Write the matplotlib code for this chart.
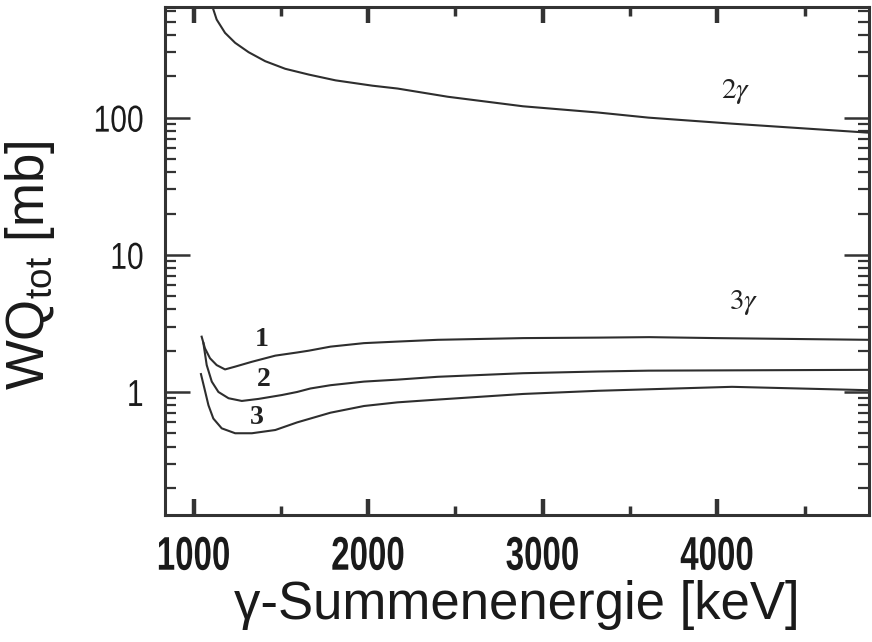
import matplotlib
matplotlib.use("Agg")
import matplotlib.pyplot as plt
from matplotlib.patheffects import AbstractPathEffect
from matplotlib.transforms import Affine2D
from matplotlib.ticker import MultipleLocator, LogLocator, NullFormatter, FuncFormatter

# --- data (energy in keV, cross section in mb) ---
x_2g = [1095, 1108, 1132, 1180, 1238, 1315, 1410, 1525, 1660, 1813, 2024, 2168,
        2456, 2887, 3316, 3606, 4084, 4866]
y_2g = [760, 643, 519, 415, 351, 300, 258, 227, 206, 187, 171, 163,
        142, 121, 109, 100, 90.4, 77.7]

x_3g1 = [1046, 1065, 1094, 1132, 1180, 1238, 1334, 1468, 1593, 1660, 1784, 1976,
         2168, 2398, 2890, 3320, 3610, 3990, 4866]
y_3g1 = [2.53, 2.08, 1.76, 1.57, 1.46, 1.53, 1.66, 1.84, 1.94, 2.0, 2.14, 2.27,
         2.33, 2.40, 2.47, 2.49, 2.51, 2.47, 2.40]

x_3g2 = [1056, 1075, 1104, 1142, 1200, 1276, 1372, 1506, 1593, 1669, 1784, 1976,
         2168, 2398, 2887, 3318, 3606, 4866]
y_3g2 = [2.27, 1.57, 1.19, 1.0, 0.90, 0.86, 0.89, 0.95, 1.0, 1.06, 1.12, 1.19,
         1.23, 1.29, 1.37, 1.41, 1.43, 1.45]

x_3g3 = [1042, 1062, 1085, 1113, 1161, 1238, 1334, 1468, 1593, 1784, 1976, 2168,
         2398, 2887, 3318, 3606, 4084, 4866]
y_3g3 = [1.35, 1.06, 0.80, 0.64, 0.543, 0.50, 0.50, 0.528, 0.60, 0.706, 0.79, 0.84,
         0.88, 0.967, 1.02, 1.046, 1.09, 1.03]

curve_labels = ["1", "2", "3"]
curve_label_pos = [(1391, 2.4), (1403, 1.24), (1362, 0.646)]
group_labels = [r"$2\gamma$", r"$3\gamma$"]
group_label_pos = [(4107, 155), (4153, 4.46)]

x_ticks = [1000, 2000, 3000, 4000]
y_ticks = [1, 10, 100]


class Squeeze(AbstractPathEffect):
    """Narrow the glyphs horizontally (condensed look) around an anchor."""

    def __init__(self, sx, anchor="center"):
        super().__init__()
        self.sx = sx
        self.anchor = anchor

    def draw_path(self, renderer, gc, tpath, affine, rgbFace=None):
        ext = tpath.get_extents(affine)
        x0 = ext.x1 if self.anchor == "right" else (ext.x0 + ext.x1) / 2
        sq = Affine2D().translate(-x0, 0).scale(self.sx, 1).translate(x0, 0)
        renderer.draw_path(gc, tpath, affine + sq, rgbFace)


plt.rcParams["mathtext.fontset"] = "stix"
plt.rcParams["mathtext.rm"] = "Liberation Sans"
plt.rcParams["mathtext.it"] = "Liberation Sans:italic"
plt.rcParams["mathtext.bf"] = "Liberation Sans:bold"

fig = plt.figure(figsize=(8.72, 6.42), dpi=100)
ax = fig.add_axes([0.189, 0.198, 0.807, 0.791])

line_kw = dict(color="#2e2e2e", lw=1.5)
ax.plot(x_2g, y_2g, **line_kw)
ax.plot(x_3g1, y_3g1, **line_kw)
ax.plot(x_3g2, y_3g2, **line_kw)
ax.plot(x_3g3, y_3g3, **line_kw)

ax.set_yscale("log")
ax.set_xlim(835, 4866)
ax.set_ylim(0.127, 640)

for txt, (tx, ty) in zip(curve_labels, curve_label_pos):
    ax.text(tx, ty, txt, fontsize=20, family="Liberation Serif", fontweight="bold",
            ha="center", va="center", color="#222222")
for txt, (tx, ty) in zip(group_labels, group_label_pos):
    ax.text(tx, ty, txt, fontsize=21, ha="center", va="center", color="#222222",
            math_fontfamily="stix")

# ticks
ax.xaxis.set_major_locator(MultipleLocator(1000))
ax.xaxis.set_minor_locator(MultipleLocator(500))
ax.set_xticks(x_ticks)
ax.yaxis.set_major_locator(LogLocator(base=10))
ax.yaxis.set_minor_locator(LogLocator(base=10, subs=range(2, 10)))
ax.yaxis.set_minor_formatter(NullFormatter())
ax.set_yticks(y_ticks)
ax.yaxis.set_major_formatter(FuncFormatter(lambda v, p: "%g" % v))

ax.tick_params(which="both", direction="in", top=True, right=True, color="#333333")
ax.tick_params(axis="x", which="major", length=11.5, width=3.2, pad=15)
ax.tick_params(axis="x", which="minor", length=6.5, width=2.5)
ax.tick_params(axis="y", which="major", length=18, width=1.8, pad=15)
ax.tick_params(axis="y", which="minor", length=8, width=1.6)

for lab in ax.get_xticklabels():
    lab.set_fontfamily("Liberation Sans")
    lab.set_fontweight("bold")
    lab.set_fontsize(34)
    lab.set_color("#1a1a1a")
    lab.set_path_effects([Squeeze(0.7)])
for lab in ax.get_yticklabels():
    lab.set_fontfamily("Liberation Sans")
    lab.set_fontsize(27)
    lab.set_color("#1a1a1a")
    lab.set_path_effects([Squeeze(0.8, "right")])

for sp in ax.spines.values():
    sp.set_linewidth(2.2)
    sp.set_color("#333333")

ax.set_xlabel("γ-Summenenergie [keV]", fontsize=38, family="Liberation Sans",
              color="#1a1a1a")
ax.xaxis.set_label_coords(0.5, -0.177)
ax.xaxis.label.set_verticalalignment("center")

ax.set_ylabel(r"WQ$_{\mathrm{tot}}$ [mb]", fontsize=38, family="Liberation Sans",
              math_fontfamily="custom", color="#1a1a1a")
ax.yaxis.set_label_coords(-0.192, 0.492)
ax.yaxis.label.set_verticalalignment("center")

fig.savefig("out.png", dpi=100)
